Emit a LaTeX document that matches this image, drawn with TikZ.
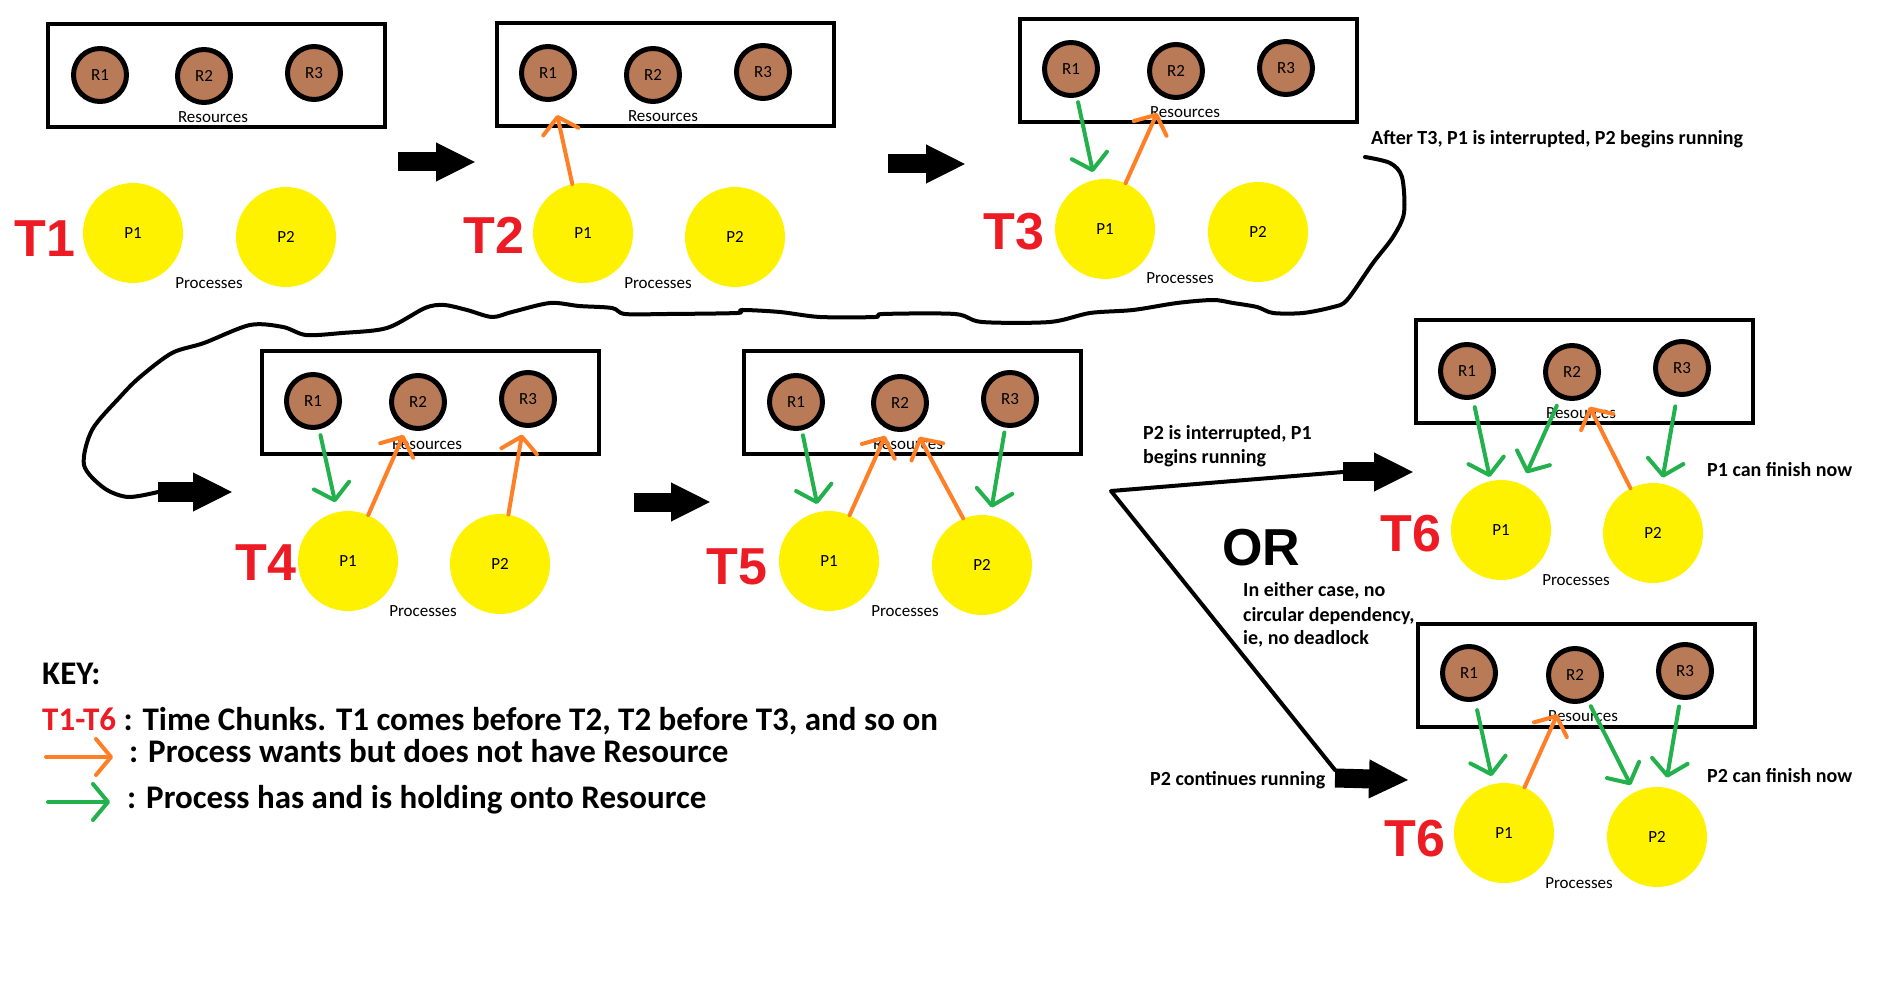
\documentclass[tikz,border=0pt]{standalone}
\usepackage{fontspec}
\setmainfont{Carlito}
\newfontfamily\tfont{Liberation Sans}
\usetikzlibrary{arrows.meta}
\definecolor{rbrown}{RGB}{185,122,87}
\definecolor{pyellow}{RGB}{255,242,0}
\definecolor{worange}{RGB}{255,127,39}
\definecolor{hgreen}{RGB}{34,177,76}
\definecolor{tred}{RGB}{237,28,36}
\tikzset{
  res/.style={circle, draw=black, line width=5pt, fill=rbrown, minimum size=53pt, inner sep=0pt, font=\fontsize{17}{17}\selectfont},
  proc/.style={circle, fill=pyellow, minimum size=100pt, inner sep=0pt, font=\fontsize{17}{17}\selectfont},
  rbox/.style={draw=black, line width=4pt, minimum width=337pt, minimum height=103pt, inner sep=0pt},
  lbl/.style={font=\fontsize{17}{17}\selectfont, inner sep=0pt},
  tlab/.style={font=\tfont\bfseries\fontsize{52}{52}\selectfont, text=tred, inner sep=0pt},
  ortext/.style={font=\tfont\bfseries\fontsize{52}{52}\selectfont, inner sep=0pt},
  want/.style={draw=worange, line width=4pt, line cap=round, -{Straight Barb[round,length=15pt,width=36pt]}},
  has/.style={draw=hgreen, line width=4pt, line cap=round, -{Straight Barb[round,length=15pt,width=36pt]}},
  fat/.style={draw=black, line width=19pt, -{Triangle[length=40pt,width=36pt]}},
  thinline/.style={draw=black, line width=4pt, line cap=round, line join=round},
  note/.style={font=\bfseries\fontsize{20}{24}\selectfont, inner sep=0pt, anchor=base west},
  keyf/.style={font=\bfseries\fontsize{33}{36}\selectfont, inner sep=0pt, anchor=base west}
}
\begin{document}
\begin{tikzpicture}[x=1pt,y=-1pt]
\fill[white] (0,0) rectangle (1891,981);
\useasboundingbox (0,0) rectangle (1891,981);

% ---------- T1 ----------
\node[rbox] (b1) at (216.5,76) {};
\node[res] (t1r1) at (100,75) {R1};
\node[res] (t1r2) at (204,76) {R2};
\node[res] (t1r3) at (314,73) {R3};
\node[lbl] (t1res) at (213,117) {Resources};
\node[proc] (t1p1) at (133,233) {P1};
\node[proc] (t1p2) at (286,237) {P2};
\node[lbl] (t1pro) at (209,283) {Processes};
\node[tlab] (t1t) at (45,239) {T1};

% ---------- T2 ----------
\node[rbox] (b2) at (665.5,75) {};
\node[res] (t2r1) at (548,73) {R1};
\node[res] (t2r2) at (653,75) {R2};
\node[res] (t2r3) at (763,72) {R3};
\node[lbl] (t2res) at (663,116) {Resources};
\node[proc] (t2p1) at (583,233) {P1};
\node[proc] (t2p2) at (735,237) {P2};
\node[lbl] (t2pro) at (658,283) {Processes};
\node[tlab] (t2t) at (494,235) {T2};
\draw[want, shorten >=14pt] (t2p1) -- (t2r1);

% ---------- T3 ----------
\node[rbox] (b3) at (1188.5,71) {};
\node[res] (t3r1) at (1071,69) {R1};
\node[res] (t3r2) at (1176,71) {R2};
\node[res] (t3r3) at (1286,68) {R3};
\node[lbl] (t3res) at (1185,112) {Resources};
\node[proc] (t3p1) at (1105,229) {P1};
\node[proc] (t3p2) at (1258,232) {P2};
\node[lbl] (t3pro) at (1180,278) {Processes};
\node[tlab] (t3t) at (1014,232) {T3};
\draw[has, shorten <=5pt, shorten >=8pt] (t3r1) -- (t3p1);
\draw[want, shorten >=17pt] (t3p1) -- (t3r2);
\node[note] (n3) at (1371,145) {After T3, P1 is interrupted, P2 begins running};

% ---------- T4 ----------
\node[rbox] (b4) at (430,402.5) {};
\node[res] (t4r1) at (313,401) {R1};
\node[res] (t4r2) at (418,402) {R2};
\node[res] (t4r3) at (528,399) {R3};
\node[lbl] (t4res) at (427,444) {Resources};
\node[proc] (t4p1) at (348,561) {P1};
\node[proc] (t4p2) at (500,564) {P2};
\node[lbl] (t4pro) at (423,611) {Processes};
\node[tlab] (t4t) at (266,563) {T4};
\draw[has, shorten <=6pt, shorten >=10pt] (t4r1) -- (t4p1);
\draw[want, shorten >=7pt] (t4p1) -- (t4r2);
\draw[want, shorten >=7pt] (t4p2) -- (t4r3);

% ---------- T5 ----------
\node[rbox] (b5) at (912.5,402.5) {};
\node[res] (t5r1) at (796,402) {R1};
\node[res] (t5r2) at (900,403) {R2};
\node[res] (t5r3) at (1010,399) {R3};
\node[lbl] (t5res) at (908,444) {Resources};
\node[proc] (t5p1) at (829,561) {P1};
\node[proc] (t5p2) at (982,565) {P2};
\node[lbl] (t5pro) at (905,611) {Processes};
\node[tlab] (t5t) at (737,567) {T5};
\draw[has, shorten <=5pt, shorten >=8pt] (t5r1) -- (t5p1);
\draw[want, shorten >=7pt] (t5p1) -- (t5r2);
\draw[want, shorten >=10pt] (t5p2.112) -- (t5r2.-60);
\draw[has, shorten <=5pt, shorten >=8pt] (t5r3) -- (t5p2);

% ---------- T6 (first) ----------
\node[rbox] (b6) at (1584,371.5) {};
\node[res] (t6r1) at (1467,371) {R1};
\node[res] (t6r2) at (1572,372) {R2};
\node[res] (t6r3) at (1682,368) {R3};
\node[lbl] (t6res) at (1581,413) {Resources};
\node[proc] (t6p1) at (1501,530) {P1};
\node[proc] (t6p2) at (1653,533) {P2};
\node[lbl] (t6pro) at (1576,580) {Processes};
\node[tlab] (t6t) at (1411,534) {T6};
\draw[has, shorten <=8pt, shorten >=4pt] (t6r1) -- (t6p1);
\draw[has, shorten <=8pt, shorten >=12pt] (t6r2) -- (t6p1);
\draw[want, shorten >=10pt] (t6p2) -- (t6r2);
\draw[has, shorten <=10pt, shorten >=6pt] (t6r3) -- (t6p2);
\node[note] (n6) at (1707,477) {P1 can finish now};

% ---------- T6 (second) ----------
\node[rbox] (b7) at (1586.5,675) {};
\node[res] (u6r1) at (1469,673) {R1};
\node[res] (u6r2) at (1575,675) {R2};
\node[res] (u6r3) at (1685,671) {R3};
\node[lbl] (u6res) at (1583,716) {Resources};
\node[proc] (u6p1) at (1504,833) {P1};
\node[proc] (u6p2) at (1657,837) {P2};
\node[lbl] (u6pro) at (1579,883) {Processes};
\node[tlab] (u6t) at (1415,839) {T6};
\draw[has, shorten <=9pt, shorten >=8pt] (u6r1) -- (u6p1);
\draw[want, shorten >=14pt] (u6p1) -- (u6r2);
\draw[has, shorten <=6pt, shorten >=8pt] (u6r2) -- (u6p2);
\draw[has, shorten <=7pt, shorten >=10pt] (u6r3) -- (u6p2);
\node[note] (n7) at (1707,782) {P2 can finish now};

% ---------- stage arrows ----------
\coordinate (a1s) at (398,162); \coordinate (a1e) at (476,162);
\draw[fat] (a1s) -- (a1e);
\coordinate (a2s) at (888,164); \coordinate (a2e) at (966,164);
\draw[fat] (a2s) -- (a2e);
\coordinate (a3s) at (158,492); \coordinate (a3e) at (233,492);
\draw[thinline] plot[smooth, tension=0.5] coordinates {
 (1365,157) (1390,163) (1402,177) (1404,213) (1393,237) (1373,263) (1347,300)
 (1333,307) (1303,313) (1273,313) (1257,307) (1233,303) (1213,300) (1177,303)
 (1133,310) (1090,313) (1050,322) (982,322) (955,314) (883,314) (875,317)
 (820,317) (780,312) (742,310) (737,313) (667,314) (625,314) (612,308)
 (579,306) (550,303) (512,312) (492,317) (467,310) (444,305) (425,308)
 (387,328) (342,333) (306,335) (283,327) (250,325) (204,343) (172,353)
 (140,377) (120,397) (92,430) (84,465) (104,488) (128,497) (158,492)};
\draw[fat] (a3s) -- (a3e);
\coordinate (a4s) at (634,502); \coordinate (a4e) at (711,502);
\draw[fat] (a4s) -- (a4e);

% ---------- fork ----------
\coordinate (fork) at (1111,491);
\coordinate (or1) at (1343,472); \coordinate (or1e) at (1414,472);
\coordinate (or2a) at (1335,770);
\coordinate (or2) at (1335,778); \coordinate (or2e) at (1409,780);
\draw[thinline] (or1) -- (fork) -- (or2a);
\draw[fat] (or1) -- (or1e);
\draw[fat] (or2) -- (or2e);
\node[note] (n4a) at (1143,440) {P2 is interrupted, P1};
\node[note] (n4b) at (1143,464) {begins running};
\node[ortext] (or) at (1261,548) {OR};
\node[note] (n5a) at (1243,596) {In either case, no};
\node[note] (n5b) at (1243,621) {circular dependency,};
\node[note] (n5c) at (1243,644) {ie, no deadlock};
\node[note] (n8) at (1150,785) {P2 continues running};

% ---------- key ----------
\node[keyf] (key) at (42,684) {KEY:};
\node[keyf] (k1) at (42,730) {\textcolor{tred}{T1-T6} : Time Chunks. T1 comes before T2, T2 before T3, and so on};
\coordinate (ko1) at (46,757); \coordinate (ko2) at (113,757);
\draw[want] (ko1) -- (ko2);
\node[keyf] (k2) at (129,762) {: Process wants but does not have Resource};
\coordinate (kg1) at (48,802); \coordinate (kg2) at (110,802);
\draw[has] (kg1) -- (kg2);
\node[keyf] (k3) at (127,808) {: Process has and is holding onto Resource};
\end{tikzpicture}
\end{document}
